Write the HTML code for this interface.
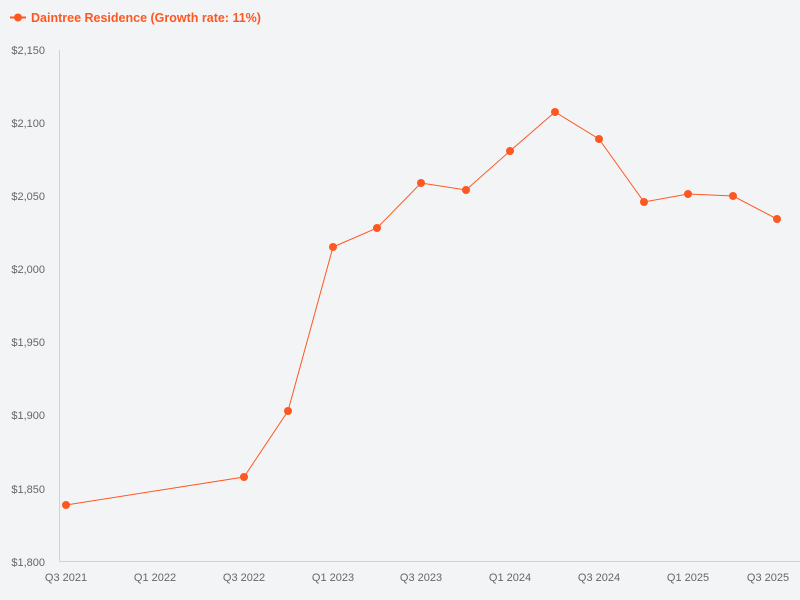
<!DOCTYPE html>
<html><head><meta charset="utf-8"><style>
html,body{margin:0;padding:0;background:#f3f4f6;}
svg{display:block;font-family:"Liberation Sans","DejaVu Sans",sans-serif;}
</style></head><body>
<svg width="800" height="600" viewBox="0 0 800 600">
<rect width="800" height="600" fill="#f3f4f6"/>
<line x1="10" y1="17.5" x2="26" y2="17.5" stroke="#ff5722" stroke-width="2"/>
<circle cx="18" cy="17.5" r="4" fill="#ff5722"/>
<text x="31" y="22" font-size="12.5" font-weight="bold" fill="#ff5722">Daintree Residence (Growth rate: 11%)</text>
<line x1="59.5" y1="50" x2="59.5" y2="561.5" stroke="#c8d4e6"/>
<line x1="59.5" y1="561.5" x2="800" y2="561.5" stroke="#c8d4e6"/>
<g font-size="11" fill="#666" text-anchor="end">
<text x="45" y="54">$2,150</text>
<text x="45" y="127">$2,100</text>
<text x="45" y="200">$2,050</text>
<text x="45" y="273">$2,000</text>
<text x="45" y="346">$1,950</text>
<text x="45" y="419">$1,900</text>
<text x="45" y="493">$1,850</text>
<text x="45" y="566">$1,800</text>
</g>
<g font-size="11" fill="#666" text-anchor="middle">
<text x="66" y="581">Q3 2021</text>
<text x="155" y="581">Q1 2022</text>
<text x="244" y="581">Q3 2022</text>
<text x="333" y="581">Q1 2023</text>
<text x="421" y="581">Q3 2023</text>
<text x="510" y="581">Q1 2024</text>
<text x="599" y="581">Q3 2024</text>
<text x="688" y="581">Q1 2025</text>
<text x="768" y="581">Q3 2025</text>
</g>
<polyline fill="none" stroke="#ff5722" stroke-width="1" points="66,505 244,477 288,411 333,247 377,228 421,183 466,190 510,151 555,112 599,139 644,202 688,194 733,196 777,219"/>
<g fill="#ff5722">
<circle cx="66" cy="505" r="4"/><circle cx="244" cy="477" r="4"/><circle cx="288" cy="411" r="4"/>
<circle cx="333" cy="247" r="4"/><circle cx="377" cy="228" r="4"/><circle cx="421" cy="183" r="4"/>
<circle cx="466" cy="190" r="4"/><circle cx="510" cy="151" r="4"/><circle cx="555" cy="112" r="4"/>
<circle cx="599" cy="139" r="4"/><circle cx="644" cy="202" r="4"/><circle cx="688" cy="194" r="4"/>
<circle cx="733" cy="196" r="4"/><circle cx="777" cy="219" r="4"/>
</g>
</svg>
</body></html>
